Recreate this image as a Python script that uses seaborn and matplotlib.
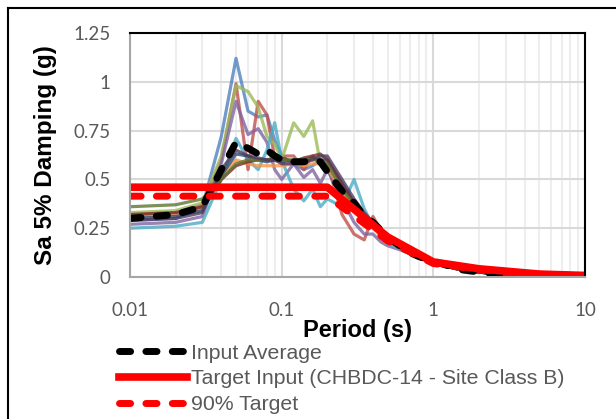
import matplotlib
matplotlib.use("Agg")
import matplotlib.pyplot as plt
import numpy as np
import pandas as pd
import seaborn as sns
from matplotlib.lines import Line2D
from matplotlib.ticker import FixedLocator, LogLocator, NullFormatter

# Spectral periods (s) shared by all input records
periods = [0.01, 0.02, 0.03, 0.04, 0.05, 0.06, 0.07, 0.08, 0.09, 0.1,
           0.12, 0.14, 0.16, 0.18, 0.2, 0.25, 0.3, 0.35, 0.4, 0.45,
           0.5, 0.6, 0.7, 0.8, 0.9, 1.0, 1.5, 2.0, 3.0, 4.0, 5.0, 7.5, 10.0]

tail = [0.038, 0.025, 0.013, 0.009, 0.006, 0.004, 0.003]

rec_01 = [0.29, 0.30, 0.36, 0.72, 1.12, 0.85, 0.82, 0.83, 0.70, 0.62,
          0.58, 0.55, 0.57, 0.60, 0.55, 0.42, 0.35, 0.30, 0.25, 0.22,
          0.19, 0.15, 0.12, 0.10, 0.085, 0.075] + tail
rec_02 = [0.32, 0.33, 0.37, 0.60, 0.99, 0.55, 0.90, 0.83, 0.61, 0.62,
          0.62, 0.55, 0.62, 0.58, 0.58, 0.32, 0.22, 0.19, 0.31, 0.24,
          0.17, 0.16, 0.13, 0.10, 0.085, 0.070] + tail
rec_03 = [0.33, 0.34, 0.38, 0.62, 0.98, 0.95, 0.87, 0.72, 0.68, 0.60,
          0.79, 0.72, 0.80, 0.58, 0.55, 0.44, 0.36, 0.30, 0.26, 0.21,
          0.20, 0.15, 0.12, 0.10, 0.085, 0.072] + tail
rec_04 = [0.27, 0.28, 0.31, 0.58, 0.90, 0.73, 0.76, 0.69, 0.55, 0.50,
          0.58, 0.51, 0.55, 0.48, 0.55, 0.40, 0.28, 0.22, 0.22, 0.18,
          0.16, 0.14, 0.12, 0.10, 0.090, 0.070] + tail
rec_05 = [0.25, 0.26, 0.28, 0.50, 0.71, 0.60, 0.55, 0.65, 0.79, 0.60,
          0.45, 0.39, 0.45, 0.36, 0.40, 0.36, 0.50, 0.35, 0.26, 0.23,
          0.17, 0.15, 0.13, 0.10, 0.090, 0.070] + tail
rec_06 = [0.31, 0.32, 0.35, 0.52, 0.60, 0.58, 0.57, 0.57, 0.57, 0.57,
          0.58, 0.57, 0.58, 0.58, 0.56, 0.44, 0.36, 0.30, 0.25, 0.21,
          0.19, 0.15, 0.12, 0.10, 0.085, 0.072] + tail
rec_07 = [0.30, 0.31, 0.34, 0.52, 0.63, 0.62, 0.60, 0.59, 0.60, 0.59,
          0.60, 0.60, 0.61, 0.60, 0.60, 0.47, 0.38, 0.32, 0.27, 0.23,
          0.20, 0.16, 0.13, 0.10, 0.088, 0.075] + tail
rec_08 = [0.32, 0.33, 0.36, 0.50, 0.57, 0.59, 0.60, 0.60, 0.60, 0.61,
          0.59, 0.61, 0.62, 0.63, 0.60, 0.48, 0.38, 0.31, 0.27, 0.22,
          0.19, 0.15, 0.12, 0.10, 0.085, 0.072] + tail
rec_09 = [0.36, 0.37, 0.40, 0.50, 0.58, 0.60, 0.60, 0.60, 0.61, 0.60,
          0.60, 0.60, 0.60, 0.60, 0.58, 0.45, 0.37, 0.31, 0.26, 0.22,
          0.19, 0.15, 0.12, 0.10, 0.085, 0.070] + tail
rec_10 = [0.29, 0.30, 0.33, 0.55, 0.65, 0.62, 0.61, 0.60, 0.60, 0.58,
          0.58, 0.59, 0.60, 0.62, 0.62, 0.50, 0.40, 0.33, 0.28, 0.23,
          0.20, 0.16, 0.13, 0.10, 0.088, 0.074] + tail

records = [rec_01, rec_02, rec_03, rec_04, rec_05,
           rec_06, rec_07, rec_08, rec_09, rec_10]
record_colors = ["#4F81BD", "#C0504D", "#9BBB59", "#8064A2", "#4BACC6",
                 "#F79646", "#2C4D75", "#772C2A", "#5F7530", "#4D3B62"]

average = [0.30, 0.32, 0.36, 0.55, 0.69, 0.66, 0.63, 0.65, 0.62, 0.60,
           0.59, 0.59, 0.60, 0.59, 0.54, 0.44, 0.38, 0.31, 0.28, 0.24,
           0.205, 0.16, 0.125, 0.105, 0.092, 0.082,
           0.038, 0.025, 0.014, 0.009, 0.006, 0.004, 0.003]

target_periods = [0.01, 0.2, 0.5, 1.0, 2.0, 5.0, 10.0]
target_sa = [0.46, 0.46, 0.205, 0.077, 0.042, 0.015, 0.008]
target_90 = [0.414, 0.414, 0.185, 0.069, 0.038, 0.0135, 0.007]

legend_labels = ["Input Average",
                 "Target Input (CHBDC-14 - Site Class B)",
                 "90% Target"]

# long-form table of the input records
rec_df = pd.DataFrame({
    "period": np.tile(periods, len(records)),
    "sa": np.concatenate(records),
    "record": np.repeat([f"R{i+1}" for i in range(len(records))], len(periods)),
})
avg_df = pd.DataFrame({"period": periods, "sa": average})
tgt_df = pd.DataFrame({"period": target_periods, "sa": target_sa, "sa90": target_90})

W, H = 616, 419
fig = plt.figure(figsize=(W / 100, H / 100), dpi=100)
ax = fig.add_axes([130 / W, 1 - 277 / H, 455 / W, 244 / H])

sns.lineplot(data=rec_df, x="period", y="sa", hue="record",
             palette=record_colors, lw=2.3, alpha=0.8, legend=False,
             estimator=None, sort=False, ax=ax)

sns.lineplot(data=avg_df, x="period", y="sa", color="black", lw=5,
             estimator=None, sort=False, ax=ax)
avg_line = ax.lines[-1]
avg_line.set_dashes((1.6, 2.2))
avg_line.set_dash_capstyle("round")

sns.lineplot(data=tgt_df, x="period", y="sa", color="#FF0000", lw=5.5,
             estimator=None, sort=False, ax=ax)
tgt_line = ax.lines[-1]

sns.lineplot(data=tgt_df, x="period", y="sa90", color="#FF0000", lw=5,
             estimator=None, sort=False, ax=ax)
t90_line = ax.lines[-1]
t90_line.set_dashes((1.6, 2.2))
t90_line.set_dash_capstyle("round")

ax.set_xscale("log")
ax.set_xlim(0.01, 10)
ax.set_ylim(0, 1.25)

ax.xaxis.set_major_locator(FixedLocator([0.01, 0.1, 1, 10]))
ax.set_xticklabels(["0.01", "0.1", "1", "10"])
ax.xaxis.set_minor_locator(LogLocator(base=10, subs=np.arange(2, 10)))
ax.xaxis.set_minor_formatter(NullFormatter())
ax.yaxis.set_major_locator(FixedLocator([0, 0.25, 0.5, 0.75, 1.0, 1.25]))
ax.set_yticklabels(["0", "0.25", "0.5", "0.75", "1", "1.25"])

ax.grid(True, which="major", color="#D9D9D9", lw=1.5)
ax.grid(True, which="minor", axis="x", color="#EEEEEE", lw=1.5)
ax.set_axisbelow(True)

ax.tick_params(which="both", length=0, labelsize=13.5, colors="#595959")
ax.tick_params(axis="x", pad=18)
ax.tick_params(axis="y", pad=14)
for lab in ax.get_xticklabels() + ax.get_yticklabels():
    lab.set_family("Lato")

for side in ("left", "bottom"):
    ax.spines[side].set_color("#A6A6A6")
    ax.spines[side].set_linewidth(1.5)
for side in ("top", "right"):
    ax.spines[side].set_color("black")
    ax.spines[side].set_linewidth(1.5)

ax.set_xlabel("Period (s)", fontsize=17, fontweight="bold",
              family="Liberation Sans", labelpad=0)
ax.set_ylabel("Sa 5% Damping (g)", fontsize=17.5, fontweight="bold",
              family="Liberation Sans", labelpad=12)

# chart-area frame (top and left edges)
fig.add_artist(Line2D([8 / W, 1], [1 - 8 / H, 1 - 8 / H],
                      transform=fig.transFigure, color="black", lw=1.5))
fig.add_artist(Line2D([8 / W, 8 / W], [0, 1 - 8 / H],
                      transform=fig.transFigure, color="black", lw=1.5))

leg = fig.legend([avg_line, tgt_line, t90_line], legend_labels,
                 loc="upper left", bbox_to_anchor=(108 / W, 1 - 333 / H),
                 frameon=False, handlelength=3.2,
                 handletextpad=0.2, labelspacing=0.32, borderpad=0,
                 prop={"family": "Liberation Sans", "size": 15.3})
for t in leg.get_texts():
    t.set_color("#595959")

fig.savefig("out.png", dpi=100)
